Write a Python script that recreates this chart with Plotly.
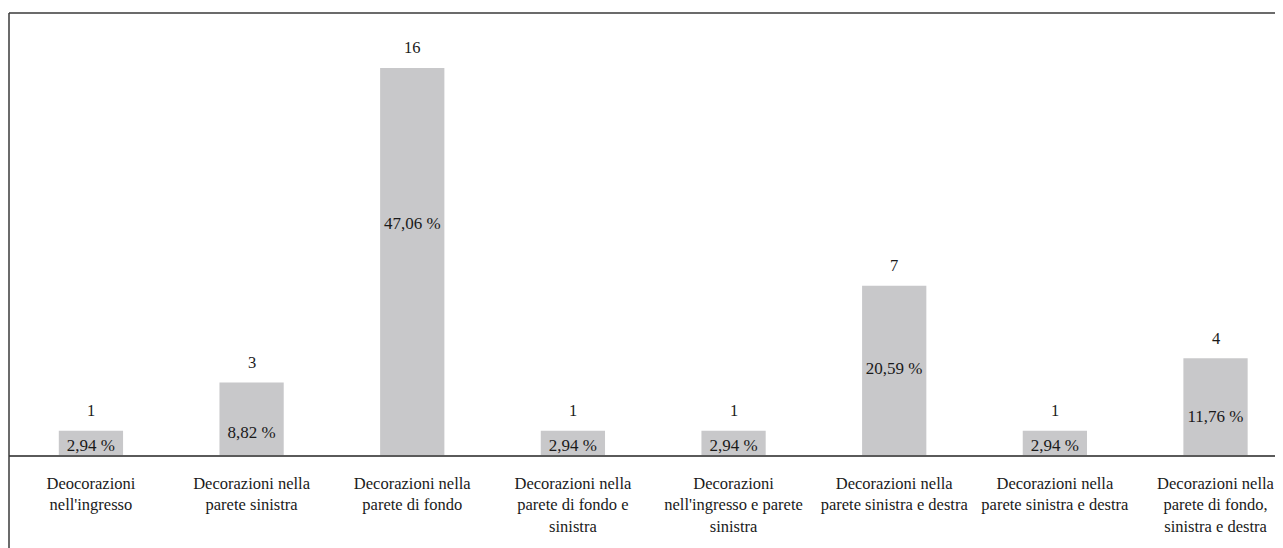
import plotly.graph_objects as go

categories = [
    "Deocorazioni<br>nell'ingresso",
    "Decorazioni nella<br>parete sinistra",
    "Decorazioni nella<br>parete di fondo",
    "Decorazioni nella<br>parete di fondo e<br>sinistra",
    "Decorazioni<br>nell'ingresso e parete<br>sinistra",
    "Decorazioni nella<br>parete sinistra e destra",
    "Decorazioni nella<br>parete sinistra e destra",
    "Decorazioni nella<br>parete di fondo,<br>sinistra e destra",
]
counts = [1, 3, 16, 1, 1, 7, 1, 4]
percents = ["2,94 %", "8,82 %", "47,06 %", "2,94 %", "2,94 %", "20,59 %", "2,94 %", "11,76 %"]

FONT = "Liberation Serif"
TXT = "#1a1a1a"
xs = list(range(len(categories)))

fig = go.Figure()
fig.add_trace(go.Bar(
    x=xs, y=counts, width=0.4,
    marker=dict(color="#c8c8ca", line=dict(width=0)),
    hoverinfo="skip",
))

# percentage labels inside bars (placed in the lower part of each bar, as in the source)
pct_y = [max(0.33, 0.665 * c - 1.12) for c in counts]
fig.add_trace(go.Scatter(
    x=xs, y=pct_y, mode="text", text=percents, textposition="middle center",
    textfont=dict(family=FONT, size=17, color=TXT),
    cliponaxis=True, hoverinfo="skip",
))

annotations = []
for x, c in zip(xs, counts):
    annotations.append(dict(
        x=x, y=c, text=str(c), showarrow=False, yshift=20,
        font=dict(family=FONT, size=16.5, color=TXT), xref="x", yref="y",
    ))

shapes = [
    dict(type="line", xref="paper", yref="paper", x0=0, x1=0, y0=-0.3, y1=1,
         line=dict(color="#3a3a3a", width=1.5)),
    dict(type="line", xref="paper", yref="paper", x0=0, x1=1.05, y0=1, y1=1,
         line=dict(color="#3a3a3a", width=1.5)),
]

fig.update_layout(
    width=1275, height=540,
    margin=dict(l=1, r=0, t=5, b=93),
    paper_bgcolor="white", plot_bgcolor="white",
    showlegend=False,
    font=dict(family=FONT, size=16, color=TXT),
    annotations=annotations,
    shapes=shapes,
    xaxis=dict(
        range=[-0.51, 7.42],
        tickvals=xs, ticktext=categories,
        tickfont=dict(family=FONT, size=16.5, color=TXT),
        showline=True, linecolor="#5a5a5a", linewidth=2,
        showgrid=False, zeroline=False, ticks="",
        ticklabelstandoff=12,
        fixedrange=True,
    ),
    yaxis=dict(
        range=[0, 18.27], visible=False, showgrid=False, zeroline=False,
        fixedrange=True,
    ),
)

fig.write_html("out.html")
